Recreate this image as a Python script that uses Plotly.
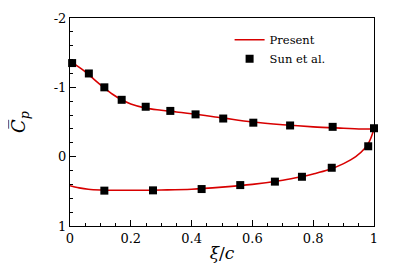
import plotly.graph_objects as go

# Present (solid red line) - upper surface
up_x = [0, 0.01, 0.02, 0.04, 0.06, 0.08, 0.11, 0.14, 0.17, 0.2, 0.25, 0.3, 0.35, 0.4, 0.5, 0.6, 0.7, 0.8, 0.9, 0.95, 1.0]
up_cp = [-1.36, -1.35, -1.32, -1.26, -1.19, -1.11, -1.00, -0.90, -0.82, -0.76, -0.70, -0.67, -0.645, -0.62, -0.56, -0.50, -0.46, -0.43, -0.41, -0.40, -0.40]
# Present - lower surface
lo_x = [0, 0.01, 0.03, 0.06, 0.1, 0.2, 0.3, 0.4, 0.5, 0.6, 0.7, 0.76, 0.8, 0.85, 0.9, 0.94, 0.97, 0.985, 1.0]
lo_cp = [0.42, 0.43, 0.45, 0.47, 0.48, 0.485, 0.48, 0.47, 0.44, 0.40, 0.34, 0.29, 0.25, 0.19, 0.10, 0.0, -0.12, -0.22, -0.40]

# Sun et al. (black squares)
sun_x = [0.007, 0.062, 0.113, 0.17, 0.249, 0.33, 0.413, 0.504, 0.603, 0.724, 0.864, 1.0,
         0.113, 0.273, 0.433, 0.56, 0.674, 0.763, 0.861, 0.981]
sun_cp = [-1.35, -1.20, -1.00, -0.82, -0.72, -0.66, -0.61, -0.55, -0.49, -0.45, -0.43, -0.41,
          0.49, 0.486, 0.467, 0.41, 0.36, 0.29, 0.16, -0.15]

x_ticks = [0, 0.2, 0.4, 0.6, 0.8, 1]
x_ticktext = ["0", "0.2", "0.4", "0.6", "0.8", "1"]
y_ticks = [-2, -1, 0, 1]
y_ticktext = ["-2", "-1", "0", "1"]

RED = "#d80000"
FONT = "DejaVu Serif"

fig = go.Figure()
fig.add_trace(go.Scatter(x=up_x, y=up_cp, mode="lines", line=dict(color=RED, width=1.6, shape="spline"),
                         name="Present", legendgroup="p"))
fig.add_trace(go.Scatter(x=lo_x, y=lo_cp, mode="lines", line=dict(color=RED, width=1.6, shape="spline"),
                         name="Present", legendgroup="p", showlegend=False))
fig.add_trace(go.Scatter(x=sun_x, y=sun_cp, mode="markers",
                         marker=dict(symbol="square", size=8, color="black"),
                         name="Sun et al.", cliponaxis=False))

fig.update_layout(
    width=398, height=263,
    margin=dict(l=62, r=32, t=10, b=45),
    paper_bgcolor="white", plot_bgcolor="white",
    font=dict(family=FONT, size=13, color="black"),
    showlegend=True,
    legend=dict(x=0.525, y=0.965, xanchor="left", yanchor="top", bgcolor="rgba(0,0,0,0)",
                font=dict(family=FONT, size=11.5), tracegroupgap=0, itemwidth=30),
    xaxis=dict(range=[0, 1], tickvals=x_ticks, ticktext=x_ticktext, automargin=False,
               ticks="inside", ticklen=6, tickwidth=1, tickcolor="black",
               showline=True, linecolor="black", linewidth=1.2, mirror=True,
               showgrid=False, zeroline=False,
               tickfont=dict(family=FONT, size=13),
               minor=dict(dtick=0.05, tick0=0, ticks="inside", ticklen=3, tickcolor="black", showgrid=False),
               title=dict(text="<i>ξ</i>/<i>c</i>", font=dict(family=FONT, size=17), standoff=2)),
    yaxis=dict(range=[1, -2], tickvals=y_ticks, ticktext=y_ticktext, automargin=False,
               ticks="inside", ticklen=6, tickwidth=1, tickcolor="black",
               showline=True, linecolor="black", linewidth=1.2, mirror=True,
               showgrid=False, zeroline=False,
               tickfont=dict(family=FONT, size=13),
               minor=dict(dtick=0.2, tick0=0, ticks="inside", ticklen=3, tickcolor="black", showgrid=False),
               title=dict(text="<i>C̅</i><sub><i>p</i></sub>", font=dict(family=FONT, size=18), standoff=32)),
)

fig.write_html("out.html")
